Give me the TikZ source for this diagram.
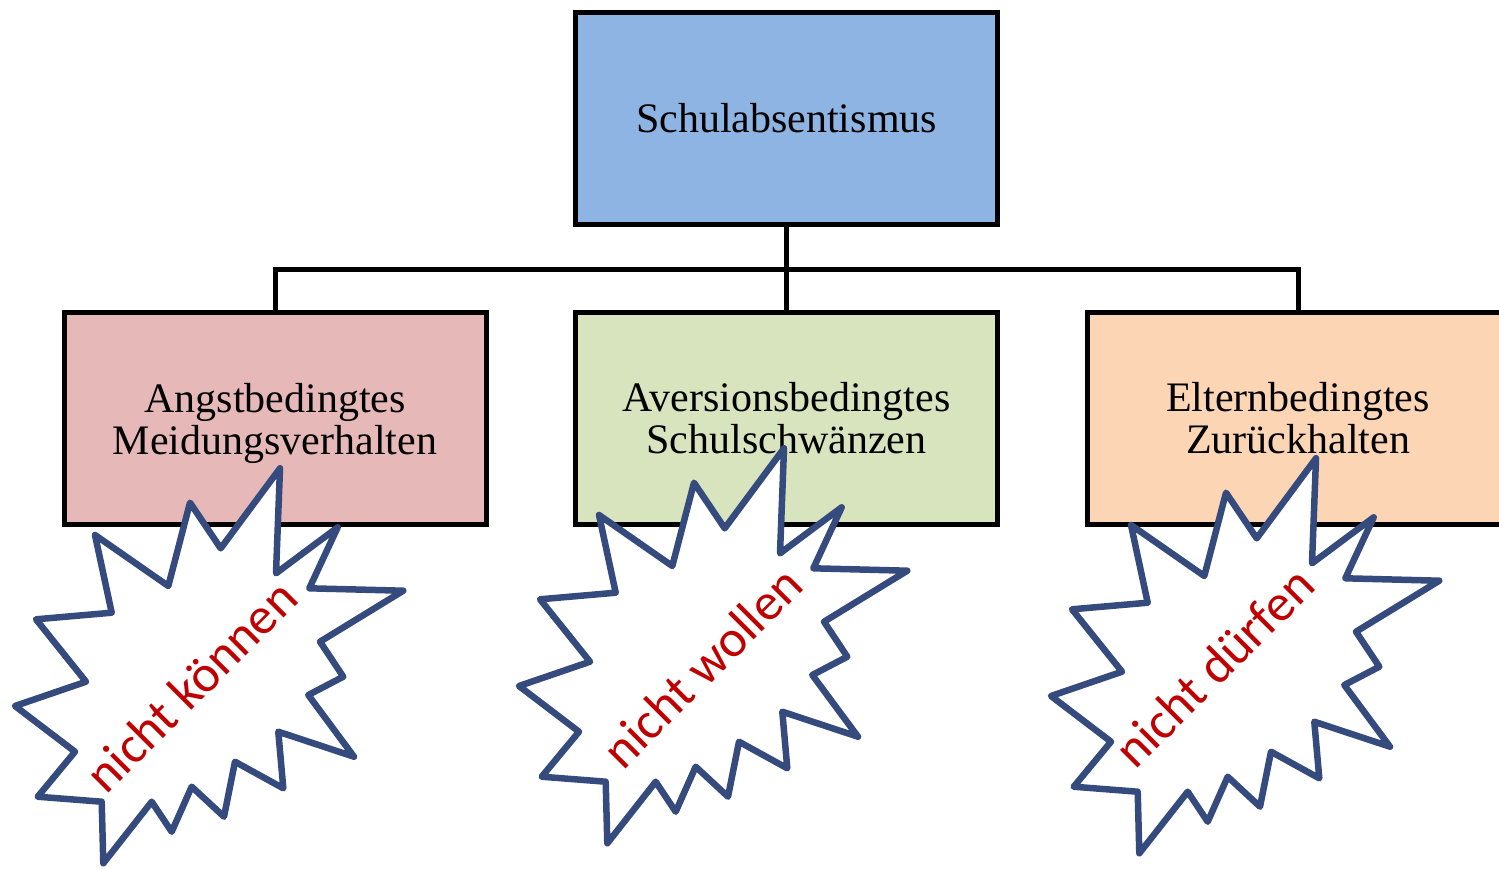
\documentclass[tikz,border=0pt]{standalone}
\usepackage{fontspec}
\setmainfont{Liberation Serif}
\newfontfamily\burstfont{Carlito}
\definecolor{boxblue}{RGB}{142,180,227}
\definecolor{boxpink}{RGB}{230,185,184}
\definecolor{boxgreen}{RGB}{215,228,189}
\definecolor{boxorange}{RGB}{252,213,181}
\definecolor{burstblue}{RGB}{53,75,125}
\definecolor{burstred}{RGB}{192,0,0}
\begin{document}
\begin{tikzpicture}[x=1pt,y=-1pt,
  box/.style={draw=black, line width=5pt, minimum width=422pt, minimum height=212pt,
    inner sep=0pt, align=center, font=\fontsize{42}{42}\selectfont},
  link/.style={draw=black, line width=5pt},
  burst/.style={draw=burstblue, fill=white, line width=6.5pt, line join=round},
  bursttext/.style={text=burstred, font=\burstfont\fontsize{52}{52}\selectfont,
    rotate=45, inner sep=0pt}]
\useasboundingbox (0,0) rectangle (1499,868);
\clip (0,0) rectangle (1499,868);
\node[box, fill=boxblue] (top) at (786.5,118.5) {Schulabsentismus};
\node[box, fill=boxpink] (angst) at (275,418.5) {Angstbedingtes\\\raisebox{0pt}[\height][0pt]{Meidungsverhalten}};
\node[box, fill=boxgreen] (aversion) at (786.5,418.5) {Aversionsbedingtes\\Schulschwänzen};
\node[box, fill=boxorange] (eltern) at (1298,418.5) {Elternbedingtes\\Zurückhalten};
\coordinate (junction) at (786.5,269);
\draw[link] (top.south) -- (junction);
\draw[link] (angst.north) |- (junction) -| (eltern.north);
\draw[link] (junction) -- (aversion.north);
\foreach \dx/\dy in {0/0,504/-20,1036/-10}{
  \draw[burst, shift={(\dx,\dy)}]
    (280,468.3) -- (276,573.3) -- (337.7,527.3) -- (309.3,588.3) -- (403.3,590.7)
    -- (320,641.7) -- (343.3,676.7) -- (308.3,695) -- (354,756.7) -- (278.3,731.7)
    -- (283.3,788.3) -- (235,761.7) -- (224,816.7) -- (191.7,786.7) -- (171.7,831.7)
    -- (151.7,801.7) -- (103.3,863.3) -- (101.7,801.7) -- (37.7,796.7) -- (75,751.7)
    -- (15,706) -- (86,681.7) -- (36,619.3) -- (111.7,612.7) -- (95,535)
    -- (168.3,586) -- (190,502.7) -- (220.7,548.3) -- cycle;
}
\node[bursttext] (koennen) at (191,686) {nicht können};
\node[bursttext] (wollen) at (702,667) {nicht wollen};
\node[bursttext] (duerfen) at (1214,667) {nicht dürfen};
\end{tikzpicture}
\end{document}
